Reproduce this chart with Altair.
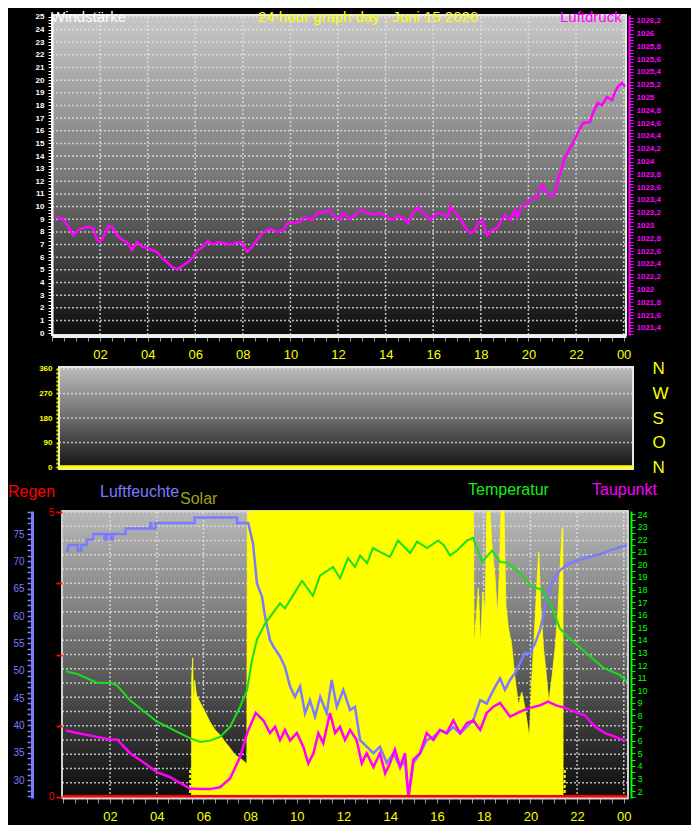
import altair as alt
import pandas as pd

W, H = 683, 817
FONT = "Liberation Sans"

# ---------------- data ----------------
press_hours = [0.15, 0.45, 0.66, 0.87, 1.08, 1.29, 1.50, 1.71, 1.87, 2.00, 2.13, 2.34, 2.50, 2.71, 2.92,
               3.13, 3.34, 3.55, 3.76, 3.97, 4.18, 4.39, 4.60, 4.81, 5.02, 5.27, 5.49, 5.70, 5.91, 6.12,
               6.33, 6.54, 6.75, 6.96, 7.17, 7.46, 7.76, 7.97, 8.18, 8.39, 8.60, 8.86, 9.15, 9.44, 9.69,
               9.90, 10.19, 10.40, 10.61, 10.91, 11.12, 11.37, 11.66, 11.87, 12.08, 12.21, 12.50, 12.80,
               13.01, 13.22, 13.47, 13.76, 14.06, 14.27, 14.48, 14.73, 14.94, 15.15, 15.36, 15.57, 15.87,
               16.16, 16.41, 16.62, 16.70, 16.92, 17.21, 17.34, 17.55, 17.76, 17.88, 18.05, 18.26, 18.47,
               18.68, 18.81, 19.02, 19.23, 19.44, 19.52, 19.73, 20.07, 20.36, 20.57, 20.91, 21.12, 21.24,
               21.54, 21.87, 22.08, 22.29, 22.59, 22.71, 22.92, 23.09, 23.30, 23.51, 23.64, 23.76, 23.93,
               24.06]
press_vals = [1023.13, 1023.10, 1022.98, 1022.85, 1022.93, 1022.96, 1022.98, 1022.96, 1022.78, 1022.74,
              1022.82, 1022.98, 1022.98, 1022.85, 1022.78, 1022.74, 1022.62, 1022.74, 1022.67, 1022.65,
              1022.62, 1022.59, 1022.49, 1022.43, 1022.35, 1022.32, 1022.38, 1022.43, 1022.51, 1022.62,
              1022.67, 1022.76, 1022.70, 1022.74, 1022.73, 1022.70, 1022.74, 1022.73, 1022.59, 1022.67,
              1022.78, 1022.90, 1022.95, 1022.90, 1022.93, 1023.04, 1023.04, 1023.06, 1023.13, 1023.09,
              1023.20, 1023.20, 1023.24, 1023.13, 1023.09, 1023.20, 1023.10, 1023.20, 1023.24, 1023.20,
              1023.17, 1023.20, 1023.13, 1023.09, 1023.15, 1023.12, 1023.04, 1023.20, 1023.28, 1023.21,
              1023.09, 1023.20, 1023.17, 1023.13, 1023.29, 1023.21, 1023.06, 1022.98, 1022.88, 1022.93,
              1023.04, 1023.09, 1022.85, 1022.93, 1022.96, 1023.04, 1023.17, 1023.09, 1023.24, 1023.13,
              1023.29, 1023.40, 1023.45, 1023.63, 1023.45, 1023.51, 1023.71, 1024.07, 1024.29, 1024.45,
              1024.60, 1024.62, 1024.76, 1024.92, 1024.88, 1025.01, 1024.96, 1025.09, 1025.17, 1025.23,
              1025.17]

dir_hours = [0.0, 24.1]
dir_vals = [0, 0]

hum_hours = [0.10, 0.21, 0.21, 0.62, 0.62, 0.77, 0.77, 1.00, 1.00, 1.28, 1.28, 1.76, 1.76, 1.86, 1.86,
             2.03, 2.03, 2.12, 2.12, 2.67, 2.67, 3.72, 3.72, 3.77, 3.77, 3.95, 3.95, 5.62, 5.62, 7.44,
             7.44, 7.92,
             7.99, 8.12, 8.20, 8.29, 8.51, 8.64, 8.85, 9.00, 9.28, 9.49, 9.71, 9.92, 10.14, 10.35, 10.56,
             10.78, 11.00, 11.28, 11.49, 11.71, 11.99, 12.28, 12.49, 12.71, 12.99, 13.28, 13.56, 13.85,
             14.13, 14.42, 14.63, 14.78, 14.99, 15.28, 15.56, 15.85, 16.13, 16.42, 16.70, 16.99, 17.28,
             17.56, 17.85, 18.13, 18.42, 18.70, 18.91, 19.13, 19.34, 19.56, 19.77, 19.98, 20.20, 20.41,
             20.63, 20.84, 21.06, 21.27, 21.70, 22.34, 22.99, 23.41, 23.84, 24.14]
hum_vals = [72, 72, 73, 73, 72, 72, 73, 73, 74, 74, 75, 75, 74, 74, 75, 75, 74, 74, 75, 75, 76, 76, 77,
            77, 76, 76, 77, 77, 78, 78, 77, 77,
            75.7, 73.3, 70, 66, 63.5, 59.8, 55.6, 54.4, 52.6, 50.7, 47.1, 45.2, 47.1, 42.2, 44.6, 41.6,
            45.2, 42.2, 48.3, 43.4, 46.5, 42.8, 43.4, 37.3, 36.1, 34.9, 36.1, 33.1, 34.9, 32.4, 33.5,
            26.9, 33.1, 34.9, 37.3, 37.9, 39.1, 38.5, 39.7, 38.5, 39.7, 41, 44.6, 44.0, 46.5, 48.6, 46.5,
            48.3, 49.6, 51.4, 53.2, 53.2, 55, 57.4, 61.6, 65.3, 67.1, 68.4, 69.7, 70.6, 71.3, 72, 72.6,
            73]

temp_hours = [0.12, 0.59, 1.44, 2.00, 2.30, 2.86, 3.41, 4.01, 4.57, 4.98, 5.43, 5.86, 6.28, 6.71, 7.14,
              7.57, 7.87, 8.08, 8.29, 8.64, 9.28, 9.49, 9.79, 10.22, 10.69, 10.99, 11.55, 11.85, 12.19,
              12.49, 12.71, 13.01, 13.26, 13.56, 13.99, 14.33, 14.85, 15.15, 15.58, 16.05, 16.30, 16.56,
              16.86, 17.29, 17.55, 17.93, 18.36, 18.70, 19.04, 19.56, 20.07, 20.50, 20.90, 21.27, 21.70,
              22.13, 22.68, 23.11, 23.84, 24.14]
temp_vals = [11.5, 11.3, 10.6, 10.6, 10.4, 9.2, 8.4, 7.5, 7.0, 6.6, 6.2, 5.9, 6.0, 6.3, 7.1, 8.7, 10.0,
             12.4, 14.0, 15.3, 16.9, 16.5, 17.4, 18.7, 17.5, 19.1, 19.8, 18.9, 20.5, 19.8, 20.7, 20.1,
             21.3, 21.0, 20.6, 21.9, 20.9, 21.8, 21.3, 21.9, 21.5, 20.7, 21.1, 21.9, 22.1, 20.2, 21.1,
             20.2, 20.1, 19.3, 18.2, 18.0, 16.7, 14.9, 14.1, 13.4, 12.5, 11.8, 11.2, 10.7]

dew_hours = [0.12, 0.59, 1.44, 2.00, 2.30, 2.86, 3.41, 4.01, 4.57, 5.13, 5.43, 5.86, 6.28, 6.71, 7.14,
             7.57, 7.87, 8.24, 8.57, 8.85, 9.07, 9.28, 9.49, 9.71, 10.00, 10.28, 10.49, 10.71, 10.92,
             11.13, 11.42, 11.64, 11.85, 12.06, 12.28, 12.56, 12.78, 12.99, 13.28, 13.56, 13.78, 13.99,
             14.20, 14.42, 14.63, 14.78, 14.99, 15.28, 15.56, 15.85, 16.13, 16.42, 16.70, 16.99, 17.28,
             17.56, 17.85, 18.13, 18.42, 18.70, 19.13, 19.56, 19.98, 20.41, 20.76, 21.10, 21.49, 21.90,
             22.34, 22.77, 23.20, 23.63, 24.06]
dew_vals = [6.8, 6.6, 6.3, 6.1, 6.1, 5.0, 4.3, 3.5, 3.1, 2.5, 2.2, 2.15, 2.15, 2.3, 3.0, 4.7, 6.6, 8.2,
            7.6, 6.6, 7.1, 6.05, 6.85, 6.0, 6.6, 5.5, 4.2, 5.0, 6.6, 5.8, 8.2, 6.6, 7.1, 6.05, 6.85,
            6.05, 4.2, 5.0, 3.9, 5.0, 3.4, 4.2, 5.3, 3.9, 5.0, 1.55, 4.5, 5.0, 6.6, 6.05, 6.85, 6.6,
            7.6, 6.6, 7.4, 7.6, 6.85, 8.2, 8.7, 9.0, 7.9, 8.3, 8.6, 8.8, 9.1, 8.8, 8.6, 8.3, 8.0, 7.1,
            6.6, 6.3, 6.0]

solar_hours = [5.49, 5.50, 5.54, 5.58, 5.62, 5.70, 5.85, 6.07, 6.28, 6.50, 6.71, 6.93, 7.14, 7.35, 7.57,
               7.78, 7.86, 7.88, 17.56, 17.59, 17.77, 17.87, 17.96, 18.06, 18.14, 18.27, 18.35, 18.49,
               18.59, 18.68, 18.74, 18.87, 18.95, 19.06, 19.20, 19.34, 19.49, 19.63, 19.77, 19.96, 20.06,
               20.16, 20.27, 20.36, 20.44, 20.56, 20.67, 20.79, 20.92, 21.06, 21.20, 21.30, 21.36, 21.39,
               21.40]
solar_vals = [0, 420, 488, 300, 410, 360, 334, 300, 265, 237, 220, 195, 174, 150, 139, 125, 118, 1000,
              1000, 533, 732, 533, 718, 648, 1000, 1000, 882, 767, 638, 787, 1000, 1000, 672, 592, 533,
              418, 324, 369, 314, 209, 418, 557, 732, 857, 672, 523, 439, 334, 418, 523, 672, 847, 941,
              941, 0]

sun_hours = [5.43, 21.47]          # sunrise / sunset markers
rain_hours = [0.0, 24.15]
rain_vals = [0, 0]

wind_grid = list(range(1, 26))
hour_grid = list(range(2, 25, 2))
dir_grid = [90, 180, 270, 360]
rain_grid = [0.25 * i for i in range(1, 21)]

# ---------------- scales (explicit pixel ranges inside one view) ----------------
TOP_XD, WIND_D, PRESS_D = [-0.02, 24.1], [-0.15, 25.15], [1021.29, 1026.29]
MID_XD, DIR_D = [-0.02, 24.1], [-7.3, 367.3]
BOT_XD, HUM_D, TEMP_D, RAIN_D, SOL_D = [-0.056, 24.18], [26.71, 79.21], [1.444, 24.24], [-0.018, 5.018], [0, 1000]


def qs(dom, rng):
    return alt.Scale(domain=dom, range=rng, nice=False, zero=False)


TOP_X = qs(TOP_XD, [44, 618])
WIND_Y = qs(WIND_D, [327, 7])
PRESS_Y = qs(PRESS_D, [327, 7])
MID_X = qs(MID_XD, [51, 625])
DIR_Y = qs(DIR_D, [461, 359])
BOT_X = qs(BOT_XD, [54, 620])
HUM_Y = qs(HUM_D, [790, 503])
TEMP_Y = qs(TEMP_D, [790, 503])
RAIN_Y = qs(RAIN_D, [790, 503])
SOL_Y = qs(SOL_D, [790, 503])

HOUR_LBL = ("datum.value > 0 && datum.value % 2 == 0 ? (datum.value == 24 ? '00' : "
            "(datum.value < 10 ? '0' + datum.value : '' + datum.value)) : ''")


def axis(**kw):
    base = dict(title=None, grid=False, labelOverlap=False, labelFlush=False, labelFont=FONT, zindex=1)
    base.update(kw)
    return alt.Axis(**base)


half_hours = [i * 0.5 for i in range(49)]

top_x_axis = axis(orient="bottom", offset=328 - H, values=half_hours, labelExpr=HOUR_LBL,
                  domainColor="#f0f0f0", domainWidth=3, tickColor="#9a9a9a", tickSize=5,
                  labelColor="#ffff00", labelFontSize=13, labelPadding=7)
wind_axis = axis(orient="left", offset=-44, values=[i * 0.25 for i in range(101)],
                 labelExpr="datum.value % 1 == 0 ? format(datum.value, 'd') : ''",
                 domainColor="#ffffff", domainWidth=2, tickColor="#ffffff", tickSize=4,
                 labelColor="#ffffff", labelFontSize=8, labelFontWeight="bold", labelPadding=4)
press_axis = axis(orient="right", offset=621 - W, values=[round(1021.3 + i * 0.05, 2) for i in range(100)],
                  labelExpr="abs(datum.value*5 - round(datum.value*5)) < 0.001 ? "
                            "replace(format(datum.value, '.1~f'), '.', ',') : ''",
                  domainColor="#ff00ff", domainWidth=2, tickColor="#ff00ff", tickSize=4,
                  labelColor="#ff00ff", labelFontSize=8, labelFontWeight="bold", labelPadding=3)
dir_axis = axis(orient="left", offset=-51, values=list(range(0, 361, 15)),
                labelExpr="datum.value % 90 == 0 ? format(datum.value, 'd') : ''",
                domain=False, tickColor="#ffff00", tickSize=3, tickWidth=2,
                labelColor="#ffff00", labelFontSize=8, labelFontWeight="bold", labelPadding=4)
compass_axis = axis(orient="right", offset=625 - W, values=[0, 90, 180, 270, 360],
                    labelExpr="datum.value == 90 ? 'O' : (datum.value == 180 ? 'S' : "
                              "(datum.value == 270 ? 'W' : 'N'))",
                    domain=False, ticks=False, tickSize=0, labelColor="#ffff00",
                    labelFontSize=17, labelPadding=19, labelBaseline="middle")
bot_x_axis = axis(orient="bottom", offset=790 - H, values=half_hours, labelExpr=HOUR_LBL,
                  domainColor="#d0d0d0", domainWidth=2, tickColor="#9a9a9a", tickSize=5,
                  labelColor="#ffff00", labelFontSize=13, labelPadding=7)
rain_axis = axis(orient="left", offset=-54, values=[0, 1.25, 2.5, 3.75, 5],
                 labelExpr="datum.value == 0 ? '0' : (datum.value == 5 ? '5' : '')",
                 domain=False, tickColor="#ff0000", tickSize=6, tickWidth=2,
                 labelColor="#ff0000", labelFontSize=10, labelPadding=2)
hum_axis = axis(orient="left", offset=-24, values=list(range(27, 80)),
                labelExpr="datum.value % 5 == 0 ? format(datum.value, 'd') : ''",
                domainColor="#7b7bff", domainWidth=3, tickColor="#7b7bff", tickSize=5, tickWidth=1.5,
                labelColor="#7b7bff", labelFontSize=10, labelPadding=3)
temp_axis = axis(orient="right", offset=623 - W, values=[1.5 + 0.5 * i for i in range(46)],
                 labelExpr="datum.value % 1 == 0 ? format(datum.value, 'd') : ''",
                 domainColor="#00ff00", domainWidth=2, tickColor="#00ff00", tickSize=4,
                 labelColor="#00ff00", labelFontSize=9, labelPadding=2)


def grad(c0, c1, c2):
    return alt.LinearGradient(gradient="linear", x1=0, x2=0, y1=0, y2=1,
                              stops=[alt.GradientStop(color=c0, offset=0),
                                     alt.GradientStop(color=c1, offset=0.5),
                                     alt.GradientStop(color=c2, offset=1)])


def bg(xd, yd, xs, ys, xaxis, yaxis, fill, stroke):
    df = pd.DataFrame({"a0": [xd[0]], "a1": [xd[1]], "b0": [yd[0]], "b1": [yd[1]]})
    return alt.Chart(df).mark_rect(fill=fill, stroke=stroke, strokeWidth=2).encode(
        x=alt.X("a0:Q", scale=xs, axis=xaxis), x2="a1",
        y=alt.Y("b0:Q", scale=ys, axis=yaxis), y2="b1")


GRID = dict(color="#e4e4e4", strokeDash=[2, 2], strokeWidth=1.5, opacity=0.8)


def hgrid(vals, xd, xs, ys):
    df = pd.DataFrame({"v": vals, "a0": xd[0], "a1": xd[1]})
    return alt.Chart(df).mark_rule(**GRID).encode(
        x=alt.X("a0:Q", scale=xs, axis=None), x2="a1", y=alt.Y("v:Q", scale=ys, axis=None))


def vgrid(vals, yd, xs, ys):
    df = pd.DataFrame({"v": vals, "b0": yd[0], "b1": yd[1]})
    return alt.Chart(df).mark_rule(**GRID).encode(
        x=alt.X("v:Q", scale=xs, axis=None), y=alt.Y("b0:Q", scale=ys, axis=None), y2="b1")


def line(hours, vals, xs, ys, yaxis, color, width):
    df = pd.DataFrame({"h": hours, "v": vals, "i": range(len(hours))})
    return alt.Chart(df).mark_line(color=color, strokeWidth=width).encode(
        x=alt.X("h:Q", scale=xs, axis=None), y=alt.Y("v:Q", scale=ys, axis=yaxis),
        order=alt.Order("i:Q"))


def label(text, x, y, color, size=16):
    return alt.Chart(pd.DataFrame({"t": [text]})).mark_text(
        align="left", baseline="alphabetic", font=FONT, fontSize=size, color=color).encode(
        text="t:N", x=alt.value(x), y=alt.value(y))


# ---------------- layers ----------------
layers = []
# top panel: Windstärke / Luftdruck
layers.append(bg(TOP_XD, WIND_D, TOP_X, WIND_Y, top_x_axis, wind_axis,
                 grad("#c8c8c8", "#787878", "#0e0e0e"), "#e8e8e8"))
layers.append(hgrid(wind_grid, TOP_XD, TOP_X, WIND_Y))
layers.append(vgrid(hour_grid, WIND_D, TOP_X, WIND_Y))
layers.append(line(press_hours, press_vals, TOP_X, PRESS_Y, press_axis, "#ff00ff", 2.5))

# middle panel: wind direction
layers.append(bg(MID_XD, DIR_D, MID_X, DIR_Y, None, dir_axis,
                 grad("#bcbcbc", "#6c6c6c", "#121212"), "#e8e8e8"))
layers.append(hgrid(dir_grid, MID_XD, MID_X, DIR_Y))
layers.append(line(dir_hours, dir_vals, MID_X, DIR_Y, compass_axis, "#ffff00", 3.5))

# bottom panel
layers.append(bg(BOT_XD, RAIN_D, BOT_X, RAIN_Y, bot_x_axis, rain_axis,
                 grad("#b8b8b8", "#686868", "#0a0a0a"), "#d0d0d0"))
layers.append(hgrid(rain_grid, BOT_XD, BOT_X, RAIN_Y))
layers.append(vgrid(hour_grid, RAIN_D, BOT_X, RAIN_Y))
solar_df = pd.DataFrame({"h": solar_hours, "s": solar_vals, "s0": 0})
layers.append(alt.Chart(solar_df).mark_area(color="#ffff00", stroke="#ffff00", strokeWidth=0.8,
                                            opacity=1).encode(
    x=alt.X("h:Q", scale=BOT_X, axis=None),
    y=alt.Y("s:Q", scale=SOL_Y, axis=None, stack=None), y2="s0"))
sun_df = pd.DataFrame({"h": sun_hours, "s0": [0, 0], "s1": [100, 100]})
layers.append(alt.Chart(sun_df).mark_rule(color="#ffff00", strokeDash=[3, 2], strokeWidth=2).encode(
    x=alt.X("h:Q", scale=BOT_X, axis=None), y=alt.Y("s0:Q", scale=SOL_Y, axis=None), y2="s1"))
layers.append(line(hum_hours, hum_vals, BOT_X, HUM_Y, hum_axis, "#7b7bff", 2.5))
layers.append(line(dew_hours, dew_vals, BOT_X, TEMP_Y, None, "#ff00ff", 2.5))
layers.append(line(temp_hours, temp_vals, BOT_X, TEMP_Y, temp_axis, "#16e016", 2))
layers.append(line(rain_hours, rain_vals, BOT_X, RAIN_Y, None, "#ff0000", 4))

# texts (top row kept inside the canvas)
layers.append(label("Windstärke", 43, 14, "#ffffff", 15))
layers.append(label("24 hour graph day : Juni 15 2026", 250, 14, "#ffff00", 15))
layers.append(label("Luftdruck", 552, 14, "#ff00ff", 15))
layers.append(label("Regen", 0, 489, "#ff0000"))
layers.append(label("Luftfeuchte", 92, 489, "#7b7bff"))
layers.append(label("Solar", 172, 496, "#a0a018"))
layers.append(label("Temperatur", 460, 487, "#16ee16"))
layers.append(label("Taupunkt", 584, 487, "#ff00ff"))

chart = alt.layer(*layers).resolve_scale(x="independent", y="independent").resolve_axis(
    x="independent", y="independent").properties(
    width=W, height=H, autosize=alt.AutoSizeParams(type="none"), padding=0,
    background="#000000").configure(font=FONT).configure_view(strokeWidth=0)

chart.save("out.html", embed_options={"renderer": "svg", "actions": False})
